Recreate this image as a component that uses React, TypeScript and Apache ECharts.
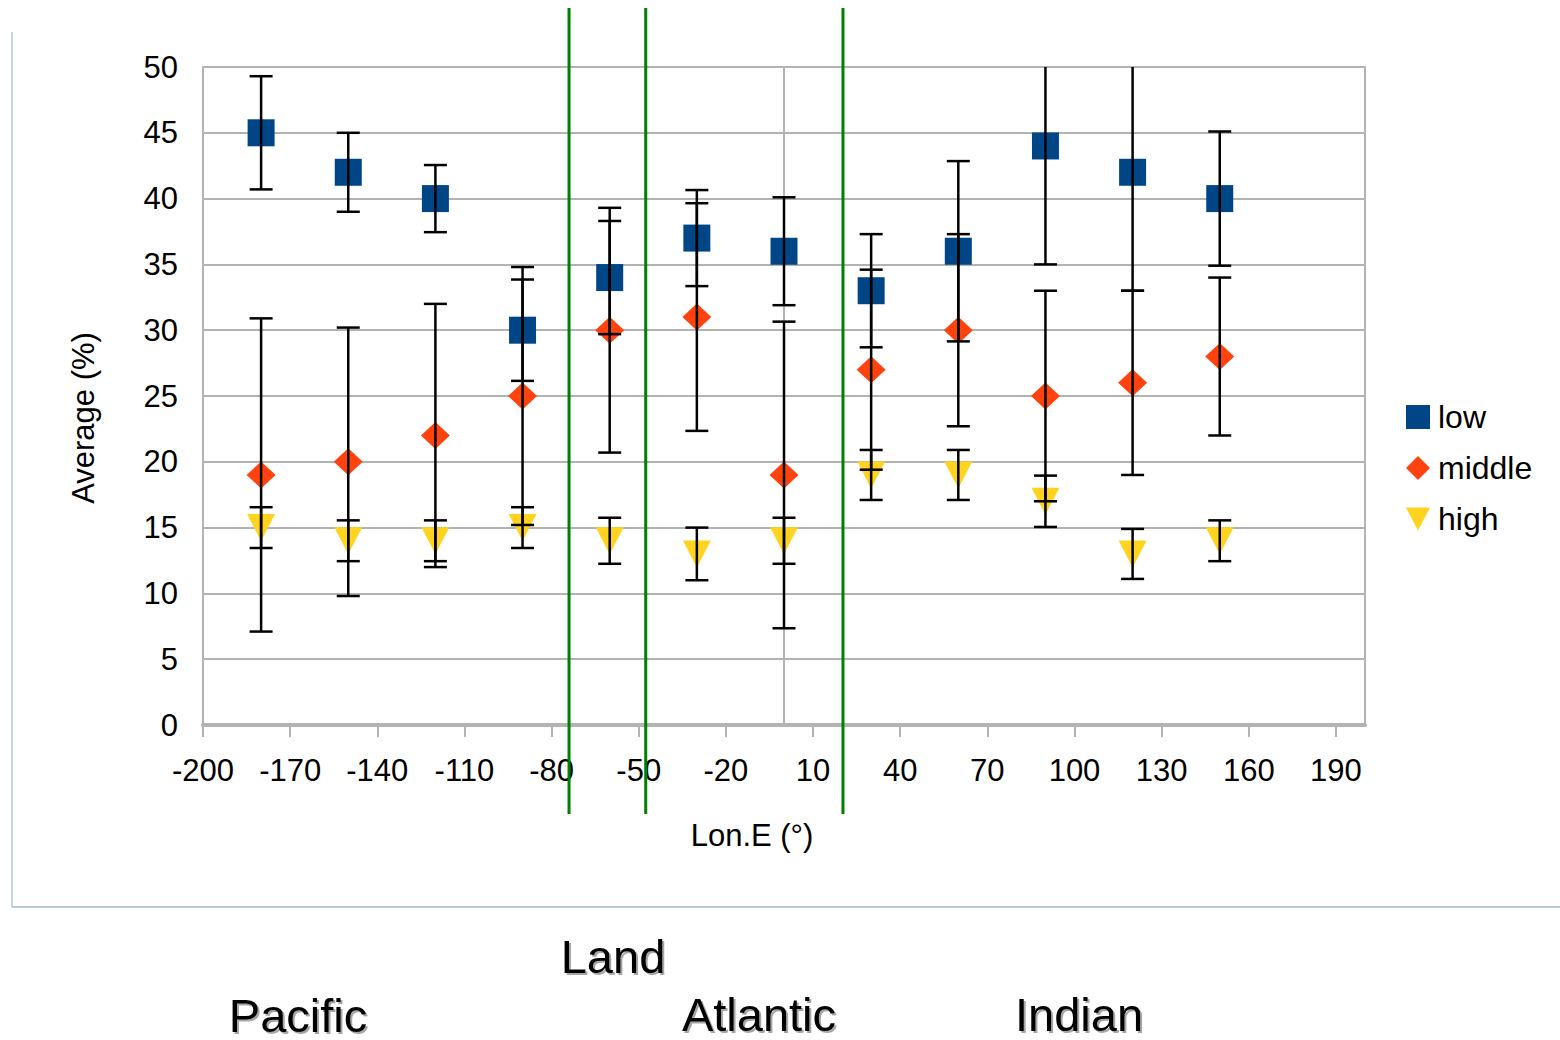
import React, { useEffect, useRef } from "react";
import * as echarts from "echarts";

const lon = [-180, -150, -120, -90, -60, -30, 0, 30, 60, 90, 120, 150];
const low = [45, 42, 40, 30, 34, 37, 36, 33, 36, 44, 42, 40];
const lowErr = [4.3, 3, 2.55, 3.85, 4.3, 3.65, 4.1, 4.3, 6.85, 9, 9, 5.1];
const middle = [19, 20, 22, 25, 30, 31, 19, 27, 30, 25, 26, 28];
const middleErr = [11.9, 10.2, 10, 9.8, 9.3, 8.65, 11.65, 7.6, 7.3, 8, 7, 6];
const high = [15, 14, 14, 15, 14, 13, 14, 19, 19, 17, 13, 14];
const highErr = [1.55, 1.55, 1.55, 1.55, 1.75, 2, 1.75, 1.9, 1.9, 1.95, 1.9, 1.55];
const seriesNames = ["low", "middle", "high"];
const dividers = [-74, -47.6, 20.3];
const regionLabels = [
  { text: "Pacific", x: 298, y: 1015 },
  { text: "Land", x: 613, y: 956 },
  { text: "Atlantic", x: 759, y: 1014 },
  { text: "Indian", x: 1079, y: 1014 },
];

const FONT = "'Liberation Sans', Arial, sans-serif";

function errData(vals: number[], errs: number[]) {
  return lon.map((x, i) => [x, vals[i] - errs[i], vals[i] + errs[i]]);
}

function errSeries(vals: number[], errs: number[]) {
  return {
    type: "custom",
    clip: true,
    z: 5,
    silent: true,
    encode: { x: 0, y: [1, 2] },
    data: errData(vals, errs),
    renderItem: (params: any, api: any) => {
      const x = api.value(0);
      const a = api.coord([x, api.value(1)]);
      const b = api.coord([x, api.value(2)]);
      const w = 11.5;
      const style = { stroke: "#000", lineWidth: 2.5 };
      return {
        type: "group",
        children: [
          { type: "line", shape: { x1: a[0], y1: a[1], x2: b[0], y2: b[1] }, style },
          { type: "line", shape: { x1: a[0] - w, y1: a[1], x2: a[0] + w, y2: a[1] }, style },
          { type: "line", shape: { x1: b[0] - w, y1: b[1], x2: b[0] + w, y2: b[1] }, style },
        ],
      };
    },
  };
}

export default function App() {
  const ref = useRef<HTMLDivElement>(null);
  useEffect(() => {
    if (!ref.current) return;
    const chart = echarts.init(ref.current, undefined, { renderer: "svg" });
    const option: any = {
      animation: false,
      backgroundColor: "#ffffff",
      textStyle: { fontFamily: FONT },
      grid: {
        left: 203,
        right: 195,
        top: 67,
        bottom: 315,
        show: true,
        borderColor: "#b3b3b3",
        borderWidth: 2,
        backgroundColor: "transparent",
      },
      xAxis: {
        type: "value",
        min: -200,
        max: 200,
        interval: 30,
        axisLine: { show: true, onZero: false, lineStyle: { color: "#b3b3b3", width: 4 } },
        axisTick: { show: true, length: 12, lineStyle: { color: "#b3b3b3", width: 2 } },
        axisLabel: {
          color: "#000",
          fontSize: 31,
          margin: 30,
          fontFamily: FONT,
          showMaxLabel: false,
        },
        splitLine: { show: false },
      },
      yAxis: {
        type: "value",
        min: 0,
        max: 50,
        interval: 5,
        axisLine: { show: false },
        axisTick: { show: false },
        axisLabel: { color: "#000", fontSize: 31, margin: 25, fontFamily: FONT },
        splitLine: { show: true, lineStyle: { color: "#b3b3b3", width: 2 } },
      },
      legend: {
        orient: "vertical",
        left: 1406,
        top: 401,
        itemWidth: 24,
        itemHeight: 24,
        itemGap: 19,
        padding: 0,
        data: seriesNames,
        textStyle: { color: "#000", fontSize: 32, fontFamily: FONT, padding: [0, 0, 0, 3] },
      },
      series: [
        {
          name: seriesNames[0],
          type: "scatter",
          symbol: "rect",
          symbolSize: 27,
          itemStyle: { color: "#004586", opacity: 1 },
          data: lon.map((x, i) => [x, low[i]]),
          z: 2,
          markLine: {
            silent: true,
            symbol: "none",
            label: { show: false },
            lineStyle: { color: "#b3b3b3", width: 2, type: "solid" },
            data: [{ xAxis: 0 }],
            z: 1,
          },
        },
        {
          name: seriesNames[1],
          type: "scatter",
          symbol: "diamond",
          symbolSize: [29, 27],
          itemStyle: { color: "#ff420e", opacity: 1 },
          data: lon.map((x, i) => [x, middle[i]]),
          z: 2,
        },
        {
          name: seriesNames[2],
          type: "scatter",
          symbol: "path://M0,0L20,0L10,19Z",
          symbolSize: [28, 27],
          itemStyle: { color: "#ffd320", opacity: 1 },
          data: lon.map((x, i) => [x, high[i]]),
          z: 2,
        },
        errSeries(low, lowErr),
        errSeries(middle, middleErr),
        errSeries(high, highErr),
      ],
    };
    chart.setOption(option);

    const graphics: any[] = [];
    dividers.forEach((v, i) => {
      const px = chart.convertToPixel({ xAxisIndex: 0 }, v) as number;
      graphics.push({
        type: "line",
        id: "div" + i,
        z: 20,
        shape: { x1: px, y1: 8, x2: px, y2: 814 },
        style: { stroke: "#008000", lineWidth: 3 },
        silent: true,
      });
    });
    graphics.push({
      type: "line",
      id: "frameL",
      shape: { x1: 12, y1: 32, x2: 12, y2: 907 },
      style: { stroke: "#c8d2e4", lineWidth: 2 },
      silent: true,
    });
    graphics.push({
      type: "line",
      id: "frameB",
      shape: { x1: 12, y1: 907, x2: 1560, y2: 907 },
      style: { stroke: "#b8c6de", lineWidth: 2 },
      silent: true,
    });
    graphics.push({
      type: "text",
      id: "ytitle",
      x: 83,
      y: 418,
      rotation: Math.PI / 2,
      style: {
        text: "Average (%)",
        fill: "#000",
        font: "31px " + FONT,
        align: "center",
        verticalAlign: "middle",
      },
      silent: true,
    });
    graphics.push({
      type: "text",
      id: "xtitle",
      x: 752,
      y: 835,
      style: {
        text: "Lon.E (°)",
        fill: "#000",
        font: "31px " + FONT,
        align: "center",
        verticalAlign: "middle",
      },
      silent: true,
    });
    regionLabels.forEach((r, i) => {
      graphics.push({
        type: "text",
        id: "region" + i,
        x: r.x,
        y: r.y,
        style: {
          text: r.text,
          fill: "#000",
          font: "47px " + FONT,
          lineHeight: 40,
          align: "center",
          verticalAlign: "middle",
          textShadowColor: "rgba(0,0,0,0.35)",
          textShadowOffsetX: 2,
          textShadowOffsetY: 2,
          textShadowBlur: 1,
        },
        silent: true,
      });
    });
    chart.setOption({ graphic: graphics });

    return () => chart.dispose();
  }, []);
  return (
    <div
      ref={ref}
      style={{ position: "fixed", left: 0, top: 0, width: 1560, height: 1040, background: "#fff" }}
    />
  );
}
